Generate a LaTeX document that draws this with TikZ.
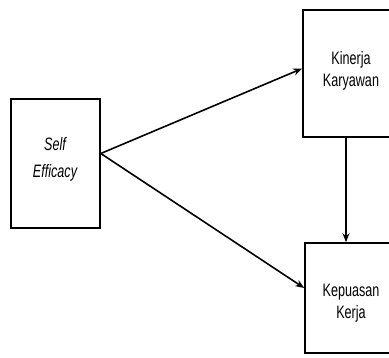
\documentclass[tikz,border=0pt]{standalone}
\usepackage{fontspec}
\setmainfont{Liberation Sans}[FakeStretch=0.7]
\usetikzlibrary{arrows.meta}
\begin{document}
\begin{tikzpicture}[x=1pt,y=-1pt,
  box/.style={draw,line width=1.6pt,inner sep=0pt},
  txt/.style={align=center,inner sep=0pt,font=\fontsize{18}{22}\selectfont},
  arr/.style={line width=1.6pt,-{Stealth[length=9pt,width=7pt]}}]
\useasboundingbox (0,0) rectangle (389,357);
\node[box,minimum width=89pt,minimum height=129pt] (se) at (55.5,163.5) {};
\node[box,minimum width=100pt,minimum height=127pt] (kk) at (353,73.5) {};
\node[box,minimum width=100pt,minimum height=110pt] (kp) at (355,298) {};
\node[txt,font=\fontsize{18}{27}\selectfont\itshape] (se-t) at (55,159.5) {Self\\Efficacy};
\node[txt] (kk-t) at (351,71) {Kinerja\\Karyawan};
\node[txt] (kp-t) at (351,303) {Kepuasan\\Kerja};
\coordinate (s) at ([yshift=10pt]se.east);
\draw[arr] (s) -- ([yshift=5pt]kk.west);
\draw[arr] (s) -- ([yshift=10pt]kp.west);
\draw[arr] (kk.south -| 346,0) -- (kp.north -| 346,0);
\end{tikzpicture}
\end{document}
